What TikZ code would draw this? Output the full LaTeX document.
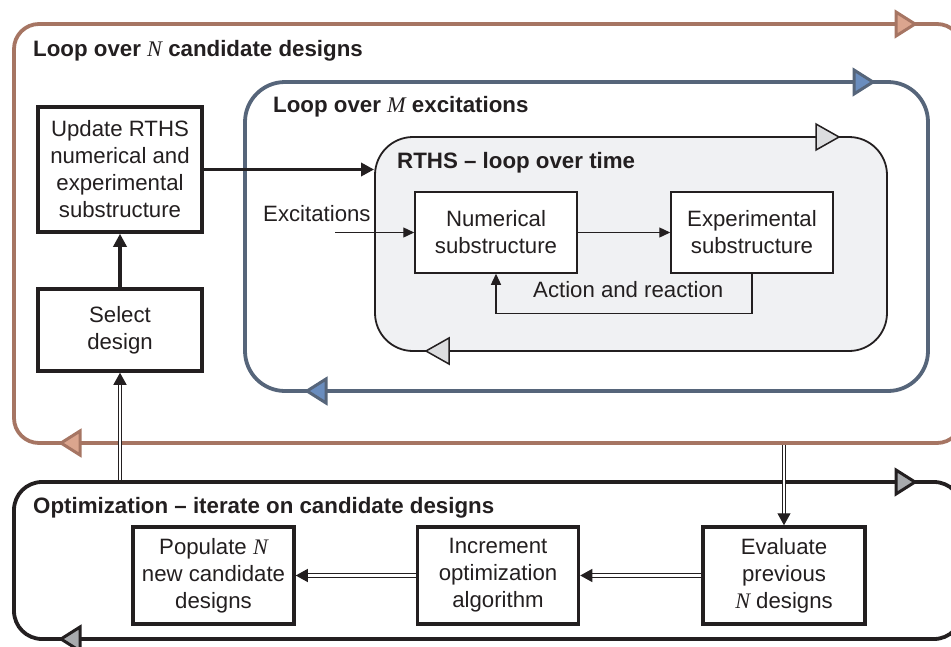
\documentclass[tikz,border=0pt]{standalone}
\usepackage{fontspec}
\setmainfont{Liberation Sans}
\newfontfamily\tnr{Liberation Serif}
\usetikzlibrary{arrows.meta,calc}
\definecolor{ink}{HTML}{231F20}
\definecolor{brownline}{HTML}{A67563}
\definecolor{brownfill}{HTML}{DBA58E}
\definecolor{blueline}{HTML}{56657A}
\definecolor{bluefill}{HTML}{6A8DBE}
\definecolor{rthsfill}{HTML}{F0F1F3}
\definecolor{rthsarrow}{HTML}{DCDDDF}
\definecolor{optarrow}{HTML}{A8AAAD}
\newcommand{\vN}{{\tnr\itshape N}}
\newcommand{\vM}{{\tnr\itshape M}}
\begin{document}
\begin{tikzpicture}[x=1pt,y=-1pt,
  font=\fontsize{22.2}{27}\selectfont, text=ink,
  title/.style={font=\fontsize{22.3}{26}\selectfont\bfseries, anchor=base west, inner sep=0},
  lbl/.style={anchor=base west, inner sep=0},
  bigbox/.style={draw=ink, line width=3.5pt, fill=white, align=center, inner sep=0, minimum width=164pt},
  smallbox/.style={draw=ink, line width=1.5pt, fill=white, align=center, inner sep=0, minimum width=162pt, minimum height=81pt},
  thickarrow/.style={draw=ink, line width=3.5pt, -{Triangle[length=13pt,width=13pt]}},
  thinarrow/.style={draw=ink, line width=1.3pt, -{Triangle[length=11pt,width=10pt]}},
  dblarrow/.style={draw=ink, line width=1.2pt, double=white, double distance=2.5pt, -{Triangle[length=12pt,width=13pt]}},
  looptip/.style={line width=3pt, line join=miter}
]
\useasboundingbox (0,0) rectangle (951,646);

% loops
\node[draw=brownline, line width=3.8pt, rounded corners=25pt, minimum width=948pt, minimum height=419pt, inner sep=0] (nloop) at (488,233.5) {};
\node[draw=blueline, line width=3.8pt, rounded corners=40pt, minimum width=683pt, minimum height=309pt, inner sep=0] (mloop) at (586.5,236.5) {};
\node[draw=ink, fill=rthsfill, line width=1.8pt, rounded corners=38pt, minimum width=512pt, minimum height=214pt, inner sep=0] (tloop) at (631,244) {};
\node[draw=ink, line width=3.8pt, rounded corners=28pt, minimum width=948pt, minimum height=157pt, inner sep=0] (oloop) at (488,560.5) {};

% loop direction marks
\filldraw[looptip, draw=brownline, fill=brownfill] (896,12) -- (915,24) -- (896,36) -- cycle;
\filldraw[looptip, draw=brownline, fill=brownfill] (80,431) -- (61,443) -- (80,455) -- cycle;
\filldraw[looptip, draw=blueline, fill=bluefill] (854,70) -- (873,82) -- (854,94) -- cycle;
\filldraw[looptip, draw=blueline, fill=bluefill] (326,379) -- (307,391) -- (326,403) -- cycle;
\filldraw[line width=1.5pt, draw=ink, fill=rthsarrow] (816,124) -- (839,137) -- (816,150) -- cycle;
\filldraw[line width=1.5pt, draw=ink, fill=rthsarrow] (449,338) -- (426,351) -- (449,364) -- cycle;
\filldraw[looptip, draw=ink, fill=optarrow] (896,470) -- (915,482) -- (896,494) -- cycle;
\filldraw[looptip, draw=ink, fill=optarrow] (80,627) -- (61,639) -- (80,651) -- cycle;

% titles
\node[title] (tN) at (33,56) {Loop over {\mdseries\vN} candidate designs};
\node[title] (tM) at (273,112) {Loop over {\mdseries\vM} excitations};
\node[title] (tT) at (397,168) {RTHS -- loop over time};
\node[title] (tO) at (33,513) {Optimization -- iterate on candidate designs};

% boxes
\node[bigbox, minimum height=125pt] (upd) at (120,169.5) {Update RTHS\\numerical and\\experimental\\substructure};
\node[bigbox, minimum height=82pt] (sel) at (120,330) {Select\\design};
\node[smallbox] (num) at (496,232.5) {Numerical\\substructure};
\node[smallbox] (exp) at (752,232.5) {Experimental\\substructure};
\node[bigbox, minimum width=161pt, minimum height=97pt] (pop) at (213.5,575.5) {Populate \vN\\new candidate\\designs};
\node[bigbox, minimum width=161pt, minimum height=97pt] (inc) at (498,575.5) {Increment\\optimization\\algorithm};
\node[bigbox, minimum width=162pt, minimum height=97pt] (eva) at (784,575.5) {Evaluate\\previous\\\vN{} designs};

% labels
\node[lbl] (exlbl) at (263,221) {Excitations};
\node[lbl] (arlbl) at (533,297) {Action and reaction};

% connectors
\coordinate (exin) at (335,232.5);
\draw[thickarrow] (sel.north) -- (upd.south);
\draw[thickarrow] (upd.east) -- (upd.east -| tloop.west);
\draw[thinarrow] (exin) -- (num.west);
\draw[thinarrow] (num.east) -- (exp.west);
\draw[thinarrow] (exp.south) -- ++(0,40) -| (num.south);
\draw[dblarrow] (sel.south |- oloop.north) -- (sel.south);
\draw[dblarrow] (eva.north |- nloop.south) -- (eva.north);
\draw[dblarrow] (eva.west) -- (inc.east);
\draw[dblarrow] (inc.west) -- (pop.east);
\end{tikzpicture}
\end{document}
